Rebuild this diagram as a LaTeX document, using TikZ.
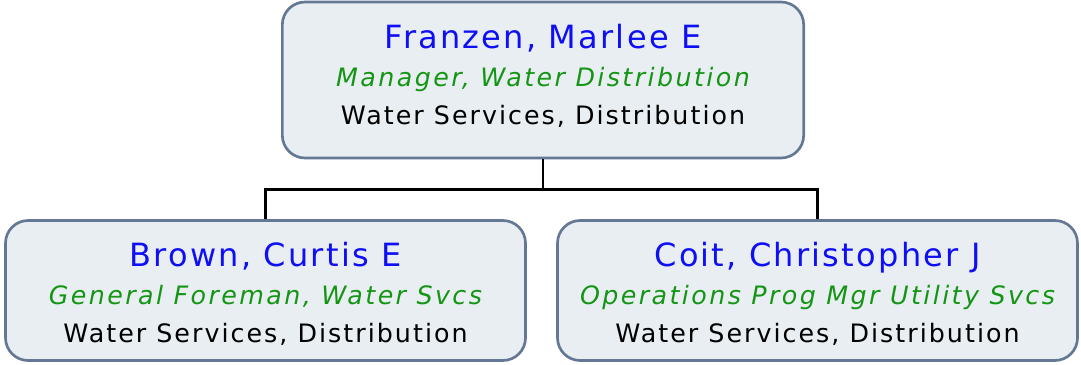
\documentclass[tikz,border=0pt]{standalone}
\usepackage{fontspec}
\setmainfont{DejaVu Sans}[LetterSpace=8]
\usetikzlibrary{positioning, calc}
\definecolor{SlateEdge}{RGB}{100, 120, 150}
\definecolor{PaleGrey}{RGB}{233, 238, 242}
\definecolor{NameBlue}{RGB}{15, 15, 245}
\definecolor{TitleGreen}{RGB}{20, 150, 20}

\newcommand{\orgentry}[3]{{\fontsize{24}{28.5}\selectfont\addfontfeatures{LetterSpace=7}\color{NameBlue}#1}\\{\itshape\addfontfeatures{LetterSpace=9.5}\color{TitleGreen}#2}\\#3}

\begin{document}
\begin{tikzpicture}[x=0.75pt, y=-0.75pt]
        \useasboundingbox (0,0) rectangle (1081,364);
        \node[draw=SlateEdge, line width=2pt, rounded corners=17pt, fill=PaleGrey, minimum width=391pt, minimum height=117pt, align=center, font=\fontsize{19}{28.5}\selectfont] (franzen) at (543,80) {\orgentry{Franzen, Marlee E}{Manager, Water Distribution}{Water Services, Distribution\rule[-9pt]{0pt}{0pt}}};
        \node[draw=SlateEdge, line width=2pt, rounded corners=17pt, fill=PaleGrey, minimum width=390pt, minimum height=105pt, align=center, font=\fontsize{19}{28.5}\selectfont] (brown) at (265.5,290.5) {\orgentry{\rule{0pt}{23pt}Brown, Curtis E}{General Foreman, Water Svcs}{Water Services, Distribution}};
        \node[draw=SlateEdge, line width=2pt, rounded corners=17pt, fill=PaleGrey, minimum width=390pt, minimum height=105pt, align=center, font=\fontsize{19}{28.5}\selectfont] (coit) at (817.5,290.5) {\orgentry{\rule{0pt}{23pt}Coit, Christopher J}{Operations Prog Mgr Utility Svcs}{Water Services, Distribution}};
        \draw[line width=2pt] (franzen.south) -- ++(0,30) coordinate (split) -| (brown.north);
        \draw[line width=2pt] (split) -| (coit.north);
    \end{tikzpicture}
\end{document}
